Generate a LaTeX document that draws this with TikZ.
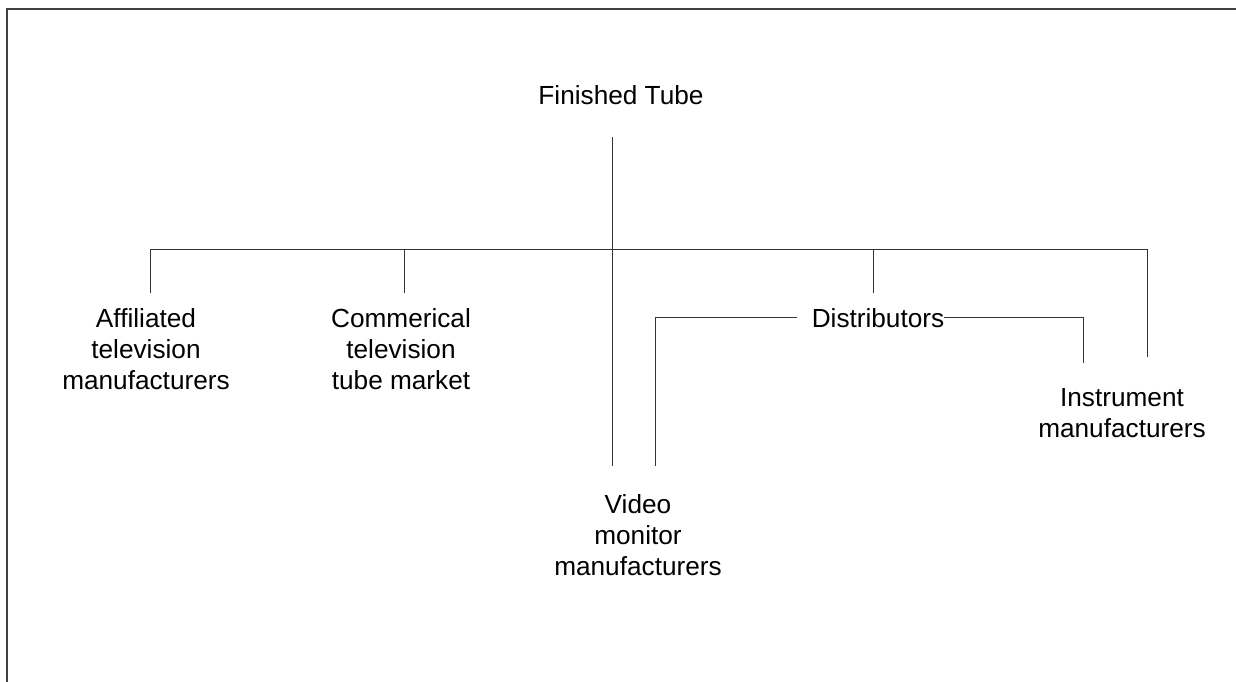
\documentclass[tikz,border=0pt]{standalone}
\usepackage{fontspec}
\setmainfont{Liberation Sans}
\begin{document}
\begin{tikzpicture}[x=1pt,y=-1pt,
  lbl/.style={font=\fontsize{26.2}{31}\selectfont, align=center, inner sep=0pt, anchor=base},
  conn/.style={draw=black!80, line width=1pt},
  frame/.style={draw=black!75, line width=1.6pt}]
\useasboundingbox (0,0) rectangle (1236,681);
\draw[frame] (7,9) rectangle (1260,700);
% labels (base anchor = baseline of the last line)
\node[lbl] (top) at (621,104) {Finished Tube};
\node[lbl] (aff) at (146,389) {Affiliated\\television\\manufacturers};
\node[lbl] (com) at (401,389) {Commerical\\television\\tube market};
\node[lbl] (vid) at (638,575) {Video\\monitor\\manufacturers};
\node[lbl] (dis) at (878,327) {Distributors};
\node[lbl] (ins) at (1122,437) {Instrument\\manufacturers};
% connector points
\coordinate (trunkTop) at (612,137);
\coordinate (trunkEnd) at (612,466);
\coordinate (barL) at (150,249);
\coordinate (barC) at (404,249);
\coordinate (barD) at (873,249);
\coordinate (barR) at (1147,249);
\coordinate (affTop) at (150,293);
\coordinate (comTop) at (404,293);
\coordinate (disTop) at (873,293);
\coordinate (insTop) at (1147,357);
\coordinate (disL) at (797,317);
\coordinate (vidTop) at (655,466);
\coordinate (disR) at (944,317);
\coordinate (insTop2) at (1083,363);
% connectors
\draw[conn] (trunkTop) -- (trunkEnd);
\draw[conn] (barL) -- (barR);
\draw[conn] (barL) -- (affTop);
\draw[conn] (barC) -- (comTop);
\draw[conn] (barD) -- (disTop);
\draw[conn] (barR) -- (insTop);
\draw[conn] (disL) -| (vidTop);
\draw[conn] (disR) -| (insTop2);
\end{tikzpicture}
\end{document}
